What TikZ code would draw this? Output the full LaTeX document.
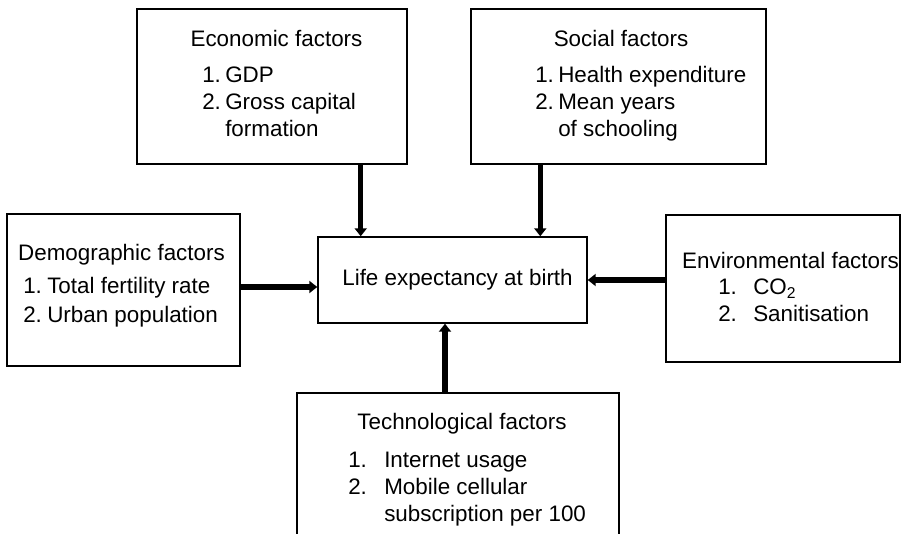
\documentclass[tikz,border=0pt]{standalone}
\usepackage{fontspec}
\setmainfont{Liberation Sans}
\usetikzlibrary{arrows.meta}
\usetikzlibrary{calc}
\newcommand\pxu{0.75pt}

\tikzset{
  box/.style={draw, line width=1.1pt, inner sep=0pt},
  title/.style={anchor=base, inner sep=0pt},
  items/.style={anchor=base west, inner sep=0pt},
  feed/.style={line width=3.8pt, -{Triangle[length=6pt,width=9pt]}},
}

\begin{document}
\begin{tikzpicture}[x=\pxu, y=-\pxu, font=\fontsize{16.8}{20.25}\selectfont]
  \useasboundingbox (0,0) rectangle (903,534);
  \clip (0,0) rectangle (903,534);

  % boxes
  \node[box, minimum width=270*\pxu, minimum height=155*\pxu] (econ) at (272,86.5) {};
  \node[box, minimum width=295*\pxu, minimum height=155*\pxu] (social) at (618.5,86.5) {};
  \node[box, minimum width=233*\pxu, minimum height=152*\pxu] (demo) at (123.5,290) {};
  \node[box, minimum width=269*\pxu, minimum height=86*\pxu] (centre) at (452.5,280) {\hspace*{7.5pt}Life expectancy at birth};
  \node[box, minimum width=234*\pxu, minimum height=147*\pxu] (env) at (783,288.5) {};
  \node[box, minimum width=322*\pxu, minimum height=152*\pxu] (tech) at (458,469) {};

  % titles
  \node[title] (econtitle) at (276.5,47) {Economic factors};
  \node[title] (socialtitle) at (621,47) {Social factors};
  \node[title] (demotitle) at (121.5,261) {Demographic factors};
  \node[title] (envtitle) at (790.5,269) {Environmental factors};
  \node[title] (techtitle) at (462,430) {Technological factors};

  % lists
  \node[items] (econlist) at (202,83) {\begin{tabular}[t]{@{}p{17.25pt}@{}l@{}}
    1. & GDP\\ 2. & Gross capital\\ & formation\end{tabular}};
  \node[items] (sociallist) at (535,83) {\begin{tabular}[t]{@{}p{17.25pt}@{}l@{}}
    1. & Health expenditure\\ 2. & Mean years\\ & of schooling\end{tabular}};
  \node[items] (demolist) at (23,294) {\begin{tabular}[t]{@{}p{18pt}@{}l@{}}
    1. & Total fertility rate\\[1.5pt] 2. & Urban population\end{tabular}};
  \node[items] (envlist) at (718,295) {\begin{tabular}[t]{@{}p{26.25pt}@{}l@{}}
    1. & CO\textsubscript{2}\\ 2. & Sanitisation\end{tabular}};
  \node[items] (techlist) at (348,467) {\begin{tabular}[t]{@{}p{27pt}@{}l@{}}
    1. & Internet usage\\ 2. & Mobile cellular\\ & subscription per 100\end{tabular}};

  % arrow feet
  \coordinate (econfoot) at ($(econ.south east)+(-47,0)$);
  \coordinate (socialfoot) at ($(social.south west)+(70,0)$);
  \coordinate (demofoot) at ($(demo.east)+(0,-3)$);
  \coordinate (techfoot) at ($(tech.north)+(-13,0)$);

  % arrows into the centre
  \draw[feed] (econfoot) -- (econfoot |- centre.north);
  \draw[feed] (socialfoot) -- (socialfoot |- centre.north);
  \draw[feed] (demofoot) -- (demofoot -| centre.west);
  \draw[feed] (env.west |- centre.east) -- (centre.east);
  \draw[feed] (techfoot) -- (techfoot |- centre.south);
\end{tikzpicture}
\end{document}
